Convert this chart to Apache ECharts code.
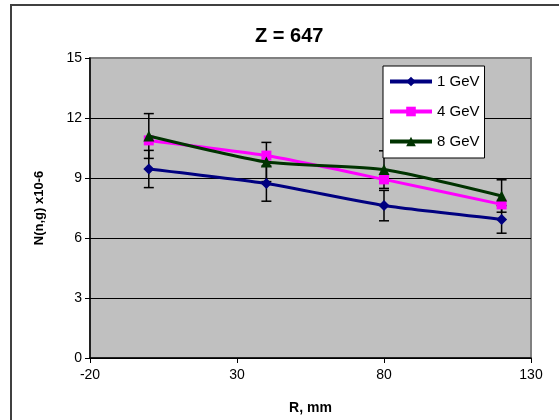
<!DOCTYPE html>
<html>
<head>
<meta charset="utf-8">
<script src="https://cdn.jsdelivr.net/npm/echarts@6/dist/echarts.min.js"></script>
<style>
html,body{margin:0;padding:0;background:#fff;}
#main{width:559px;height:420px;}
</style>
</head>
<body>
<div id="main"></div>
<script>
// R, mm
var rValues = [0, 40, 80, 120];
var yTicks = [0, 3, 6, 9, 12, 15];
var seriesNames = ['1 GeV', '4 GeV', '8 GeV'];
var gev1 = [9.45, 8.72, 7.62, 6.93];
var gev4 = [10.88, 10.12, 8.93, 7.68];
var gev8 = [11.1, 9.8, 9.42, 8.1];
// error bar half widths
var err1 = [0.93, 0.88, 0.76, 0.69];
var err8 = [1.12, 0.98, 0.94, 0.81];

var font = 'Arial, "Liberation Sans", sans-serif';

function pairs(ys) {
    return rValues.map(function (x, i) { return [x, ys[i]]; });
}
function errData(ys, es) {
    return rValues.map(function (x, i) { return [x, ys[i] - es[i], ys[i] + es[i]]; });
}

function renderErr(params, api) {
    var x = api.value(0);
    var lo = api.coord([x, api.value(1)]);
    var hi = api.coord([x, api.value(2)]);
    var w = 5;
    var style = { stroke: '#000', lineWidth: 1.5 };
    return {
        type: 'group',
        children: [
            { type: 'line', shape: { x1: lo[0], y1: lo[1], x2: hi[0], y2: hi[1] }, style: style },
            { type: 'line', shape: { x1: lo[0] - w, y1: lo[1], x2: lo[0] + w, y2: lo[1] }, style: style },
            { type: 'line', shape: { x1: hi[0] - w, y1: hi[1], x2: hi[0] + w, y2: hi[1] }, style: style }
        ]
    };
}

var chart = echarts.init(document.getElementById('main'));
chart.setOption({
    animation: false,
    backgroundColor: '#fff',
    title: {
        text: 'Z = 647',
        left: 250,
        top: 21,
        textStyle: { fontFamily: font, fontSize: 20, fontWeight: 'bold', color: '#000' }
    },
    graphic: [{
        type: 'rect',
        shape: { x: 11, y: 5, width: 600, height: 500 },
        style: { fill: 'none', stroke: '#404040', lineWidth: 2 },
        z: -1
    }],
    legend: {
        data: seriesNames,
        orient: 'vertical',
        left: 383,
        top: 66,
        padding: [8, 5, 9, 5],
        itemGap: 15,
        itemWidth: 42,
        itemHeight: 12,
        backgroundColor: '#fff',
        borderColor: '#000',
        borderWidth: 1,
        lineStyle: { width: 4 },
        textStyle: { fontFamily: font, fontSize: 15, color: '#000' }
    },
    grid: {
        left: 90,
        right: 28,
        top: 58,
        bottom: 62,
        show: true,
        backgroundColor: '#c0c0c0',
        borderColor: '#808080',
        borderWidth: 2
    },
    xAxis: {
        type: 'value',
        min: -20,
        max: 130,
        interval: 50,
        name: 'R, mm',
        nameLocation: 'middle',
        nameGap: 43,
        nameTextStyle: { fontFamily: font, fontSize: 14, fontWeight: 'bold', color: '#000' },
        axisLine: { onZero: false, lineStyle: { color: '#000', width: 1.5 } },
        axisTick: { inside: false, length: 5, lineStyle: { color: '#000' } },
        axisLabel: { fontFamily: font, fontSize: 14, color: '#000', margin: 10 },
        splitLine: { show: false }
    },
    yAxis: {
        type: 'value',
        min: yTicks[0],
        max: yTicks[yTicks.length - 1],
        interval: 3,
        name: 'N(n,g) x10-6',
        nameLocation: 'middle',
        nameGap: 44,
        nameTextStyle: { fontFamily: font, fontSize: 13, fontWeight: 'bold', color: '#000' },
        axisLine: { show: true, onZero: false, lineStyle: { color: '#000', width: 1.5 } },
        axisTick: { show: true, inside: false, length: 5, lineStyle: { color: '#000' } },
        axisLabel: { fontFamily: font, fontSize: 14, color: '#000', margin: 8 },
        splitLine: {
            show: true,
            lineStyle: { color: ['#000', '#000', '#000', '#000', '#000', '#808080'], width: 1.2 }
        }
    },
    series: [
        {
            type: 'custom',
            renderItem: renderErr,
            data: errData(gev1, err1),
            encode: { x: 0, y: [1, 2] },
            silent: true,
            z: 1
        },
        {
            type: 'custom',
            renderItem: renderErr,
            data: errData(gev8, err8),
            encode: { x: 0, y: [1, 2] },
            silent: true,
            z: 1
        },
        {
            name: '1 GeV',
            type: 'line',
            data: pairs(gev1),
            smooth: 0.2,
            symbol: 'diamond',
            symbolSize: 11,
            color: '#000080',
            lineStyle: { width: 3, color: '#000080' },
            z: 3
        },
        {
            name: '4 GeV',
            type: 'line',
            data: pairs(gev4),
            smooth: 0.2,
            symbol: 'rect',
            symbolSize: 10,
            color: '#ff00ff',
            lineStyle: { width: 3, color: '#ff00ff' },
            z: 3
        },
        {
            name: '8 GeV',
            type: 'line',
            data: pairs(gev8),
            smooth: 0.2,
            symbol: 'triangle',
            symbolSize: 11,
            color: '#003300',
            lineStyle: { width: 3, color: '#003300' },
            z: 4
        }
    ]
});
</script>
</body>
</html>
